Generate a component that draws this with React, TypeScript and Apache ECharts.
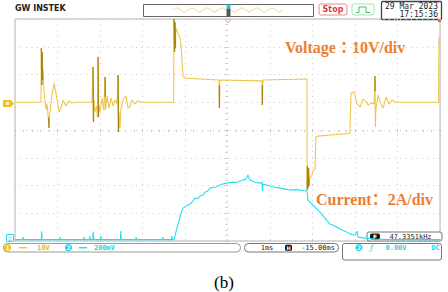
import React, { useEffect, useRef } from "react";
import * as echarts from "echarts";

// time in ms (1 ms/div), voltage in V (10 V/div), current in A (2 A/div)
const voltageTrace: [number, number][] = [
  [0, 0], [0.61, 0], [0.62, 19.5], [0.63, 6.2], [0.64, 18.1], [0.65, 8.0], [0.66, 11.6], [0.68, 4.4],
  [0.73, -2.8], [0.75, -0.6], [0.78, -4.6], [0.8, -9.3], [0.82, -3.5], [0.87, 2.6], [0.92, 6.9],
  [0.96, 3.7], [1.04, -3.5], [1.08, -2.1], [1.13, 0.8], [1.2, -1.4], [1.27, 0.5], [1.34, -0.3], [1.41, 0],
  [1.81, 0], [1.835, 12.7], [1.847, -7.1], [1.86, 0.8], [1.88, -3.5], [1.92, -1.4], [1.94, -5.7],
  [1.953, 16.3], [1.965, -5.3], [1.976, -1.0], [2.0, -3.5], [2.05, 1.5], [2.09, -2.8], [2.118, 9.1],
  [2.13, -2.8], [2.165, 2.3], [2.21, -2.1], [2.26, 1.5], [2.31, -1.4], [2.35, 0.8], [2.4, -0.6],
  [2.424, 9.8], [2.435, -10.7], [2.447, -3.5], [2.47, -9.3], [2.49, -2.8], [2.54, 0.8], [2.61, 2.3],
  [2.66, -2.1], [2.71, -1.4], [2.75, 0.8], [2.82, -0.6], [2.89, 0.5], [2.96, 0],
  [3.734, 0], [3.741, 30], [3.753, 18.1], [3.765, 28.9], [3.776, 19.5], [3.788, 26.8], [3.835, 25.0],
  [3.88, 23.5], [3.906, 20.6], [3.93, 14.5], [3.953, 9.4], [4.0, 8.7], [4.35, 8.4], [4.8, 8.0],
  [4.81, -2.1], [4.82, 8.0], [5.81, 7.7], [5.82, -1.0], [5.835, 8.0], [6.87, 8.4],
  [6.875, -31.6], [6.88, -23.0], [6.894, -30.9], [6.906, -23.7], [6.918, -30.2], [6.94, -27.3],
  [6.99, -26.2], [7.01, -24.8], [7.06, -24.1], [7.08, -12.5], [7.13, -12.2], [7.41, -11.8],
  [7.76, -11.4], [7.88, -11.1], [7.906, 3.3], [7.98, 3.7], [8.05, -0.6], [8.12, -1.7], [8.19, 1.2],
  [8.26, 0.1], [8.31, -1.0], [8.38, -0.3], [8.45, -0.6], [8.47, 9.5], [8.48, -8.9], [8.49, -2.8],
  [8.54, 2.6], [8.61, -0.6], [8.66, -2.1], [8.73, 1.9], [8.8, -0.6], [8.87, 0.8], [8.94, 0],
  [9.965, 0], [9.976, 23.5],
];

// darker (denser) parts of the voltage trace
const voltageSpikes: ([number, number] | [number, null])[] = [
  [0.62, 19.5], [0.63, 6.2], [0.64, 18.1], [0.65, 8.0], [0.655, null],
  [0.79, -5.5], [0.8, -9.3], [0.805, null],
  [1.835, 12.7], [1.847, -7.1], [1.85, null],
  [1.953, 16.3], [1.965, -5.3], [1.97, null],
  [2.118, 9.1], [2.125, 2.0], [2.13, null],
  [2.424, 9.8], [2.435, -10.7], [2.44, null],
  [3.741, 30], [3.753, 18.1], [3.765, 28.9], [3.776, 19.5], [3.78, null],
  [4.81, 6.0], [4.81, -2.1], [4.815, null],
  [5.82, 6.0], [5.82, -1.0], [5.825, null],
  [6.875, -31.6], [6.88, -23.0], [6.894, -30.9], [6.906, -23.7], [6.918, -30.2], [6.92, null],
  [8.47, 9.5], [8.472, 4.0], [8.475, null],
];

const currentTrace: [number, number][] = [
  [0, 0], [0.18, 0], [0.19, 0.18], [0.2, 0], [0.62, 0], [0.628, 0.61], [0.636, 0],
  [1.05, 0], [1.06, 0.18], [1.07, 0], [1.61, 0], [1.62, 0.18], [1.63, 0], [1.75, 0], [1.76, 0.25],
  [1.77, 0], [1.83, 0], [1.84, 0.58], [1.85, 0], [2.01, 0], [2.02, 0.25], [2.03, 0], [2.48, 0],
  [2.49, 0.61], [2.5, 0], [2.84, 0], [2.85, 0.18], [2.86, 0], [3.47, 0], [3.48, 0.18], [3.49, 0],
  [3.68, 0], [3.69, 0.25], [3.7, 0], [3.741, 0],
  [3.812, 0.83], [3.906, 1.91], [3.953, 2.27], [4.024, 2.41], [4.118, 2.56], [4.188, 2.77],
  [4.235, 2.99], [4.3, 2.95], [4.353, 3.14], [4.42, 3.2], [4.471, 3.42], [4.53, 3.5], [4.588, 3.71],
  [4.706, 3.78], [4.76, 3.85], [4.824, 3.93], [4.9, 4.02], [4.988, 4.07], [5.106, 4.14], [5.2, 4.12],
  [5.294, 4.22], [5.435, 4.36], [5.482, 4.65], [5.529, 4.29], [5.647, 4.14], [5.765, 4.07],
  [5.812, 4.14], [5.824, 3.5], [5.835, 4.0], [6.0, 3.86], [6.118, 3.78], [6.235, 3.71],
  [6.353, 3.64], [6.471, 3.57], [6.6, 3.6], [6.706, 3.57], [6.871, 3.5],
  [6.894, 2.85], [6.965, 2.63], [7.059, 2.34], [7.176, 1.98], [7.294, 1.55], [7.412, 1.12],
  [7.529, 0.97], [7.647, 0.76], [7.765, 0.61], [7.882, 0.4], [8.0, 0.32], [8.047, 0.61],
  [8.071, 0.18], [8.235, 0.11], [8.471, 0.04], [8.824, 0], [10, 0],
];

const voltageLabel = "Voltage：10V/div";
const currentLabel = "Current：2A/div";
const captionLabel = "(b)";
const brandLabel = "GW INSTEK";
const dateLabel = "29 Mar 2023";
const clockLabel = "17:15:36";
const ch1Scale = "10V";
const ch2Scale = "200mV";
const timebaseLabel = "1ms";
const delayLabel = "-15.00ms";
const freqLabel = "47.3351kHz";
const trigLevelLabel = "0.00V";
const couplingLabel = "DC";

const YEL = "#eec64f";
const YEL_DARK = "#a8840c";
const CYAN = "#1fe0ee";
const ORANGE = "#ed7d31";
const MONO = "'DejaVu Sans Mono', monospace";
const GRIDC = "#cccccc";

export default function App() {
  const ref = useRef<HTMLDivElement>(null);
  useEffect(() => {
    if (!ref.current) return;
    const chart = echarts.init(ref.current, undefined, { renderer: "svg" });
    const wave1 = [[173, 10], [177, 8], [181, 10], [184, 12], [188, 10], [192, 8], [196, 10], [199, 12], [203, 10], [207, 8], [211, 10], [214, 12], [218, 10], [222, 8], [226, 10]];
    const wave2 = [[231, 10], [234, 12], [238, 10], [242, 8], [246, 10], [249, 12], [253, 10], [257, 8], [261, 10], [264, 12], [268, 10], [272, 8], [276, 10], [279, 12], [283, 10]];
    const labelFont = "bold 16px 'Liberation Serif', 'Noto Sans CJK SC', serif";
    const graphic: any[] = [
      { type: "text", x: 15, y: 8, style: { text: brandLabel, fill: "#222", font: "bold 8px 'DejaVu Sans'", textVerticalAlign: "middle" } },
      { type: "rect", shape: { x: 143.5, y: 4.5, width: 170, height: 12 }, style: { fill: "#fff", stroke: "#666", lineWidth: 1 } },
      { type: "polyline", shape: { points: wave1, smooth: 0.5 }, style: { stroke: "#f2d683", fill: null, lineWidth: 1 } },
      { type: "polyline", shape: { points: wave2, smooth: 0.5 }, style: { stroke: "#f2d683", fill: null, lineWidth: 1 } },
      { type: "rect", shape: { x: 226.5, y: 4.5, width: 4, height: 4 }, style: { fill: "#1ad0e8" } },
      { type: "rect", shape: { x: 226.5, y: 8.5, width: 4, height: 7.5 }, style: { fill: "#555" } },
      { type: "rect", shape: { x: 319, y: 4, width: 28, height: 11, r: 2 }, style: { fill: "#fff", stroke: "#f08a8a", lineWidth: 1 } },
      { type: "text", x: 333, y: 9.8, style: { text: "Stop", fill: "#e23a3a", font: "bold 8px 'DejaVu Sans'", textAlign: "center", textVerticalAlign: "middle" } },
      { type: "rect", shape: { x: 352, y: 4, width: 22, height: 11, r: 2 }, style: { fill: "#fff", stroke: "#9fe6b4", lineWidth: 1 } },
      { type: "polyline", shape: { points: [[356, 12.5], [359, 12.5], [359, 7], [366, 7], [366, 12.5], [370, 12.5]] }, style: { stroke: "#3cc06c", fill: null, lineWidth: 1 } },
      { type: "rect", shape: { x: 381.5, y: 1.5, width: 60, height: 18, r: 1 }, style: { fill: "#fff", stroke: "#3a4450", lineWidth: 1.3 } },
      { type: "text", x: 438, y: 6.5, style: { text: dateLabel, fill: "#222", font: `8px ${MONO}`, textAlign: "right", textVerticalAlign: "middle" } },
      { type: "text", x: 438, y: 14.5, style: { text: clockLabel, fill: "#222", font: `8px ${MONO}`, textAlign: "right", textVerticalAlign: "middle" } },
      // trigger position and level markers
      { type: "polyline", shape: { points: [[225, 19.5], [228, 23], [231, 19.5]] }, style: { stroke: "#f2a08c", fill: null, lineWidth: 1 } },
      { type: "rect", shape: { x: 438, y: 19, width: 3, height: 3 }, style: { fill: "#f06030" } },
      // channel markers
      { type: "polygon", shape: { points: [[3, 100], [11, 100], [14, 103.5], [11, 107], [3, 107]] }, style: { fill: "#f2c21c" } },
      { type: "rect", shape: { x: 6, y: 102, width: 3, height: 3 }, style: { fill: "#fff3c0" } },
      { type: "rect", shape: { x: 6.5, y: 234.5, width: 7, height: 7 }, style: { fill: "#fff", stroke: CYAN, lineWidth: 1 } },
      { type: "text", x: 10, y: 238.5, style: { text: "2", fill: CYAN, font: "6px 'DejaVu Sans'", textAlign: "center", textVerticalAlign: "middle" } },
      // annotations
      { type: "text", x: 285, y: 47, style: { text: voltageLabel, fill: ORANGE, font: "bold 16px 'Liberation Serif', 'Noto Sans CJK TC', serif", textVerticalAlign: "middle" } },
      { type: "text", x: 316, y: 199, style: { text: currentLabel, fill: ORANGE, font: labelFont, textVerticalAlign: "middle" } },
      // frequency box
      { type: "rect", shape: { x: 367, y: 232, width: 75, height: 9, r: 2 }, style: { fill: "#fff", stroke: "#777", lineWidth: 1 } },
      { type: "rect", shape: { x: 370, y: 233.5, width: 10, height: 6, r: 2 }, style: { fill: "#111" } },
      { type: "text", x: 375, y: 236.7, style: { text: "F", fill: "#fff", font: "bold 6px 'DejaVu Sans'", textAlign: "center", textVerticalAlign: "middle" } },
      { type: "text", x: 410.5, y: 236.7, style: { text: freqLabel, fill: "#222", font: `7px ${MONO}`, textAlign: "center", textVerticalAlign: "middle" } },
      // bottom status bar
      { type: "rect", shape: { x: 3.5, y: 243.5, width: 237, height: 8.5, r: 4 }, style: { fill: "#fff", stroke: "#999", lineWidth: 1 } },
      { type: "circle", shape: { cx: 7.5, cy: 247.7, r: 3.6 }, style: { fill: "#f2c21c" } },
      { type: "text", x: 7.5, y: 247.9, style: { text: "1", fill: "#fff6cc", font: "bold 6px 'DejaVu Sans'", textAlign: "center", textVerticalAlign: "middle" } },
      { type: "line", shape: { x1: 19, y1: 247.7, x2: 27, y2: 247.7 }, style: { stroke: "#f0c63a", lineWidth: 1.5 } },
      { type: "text", x: 43.5, y: 247.8, style: { text: ch1Scale, fill: "#eab92a", font: `bold 7px ${MONO}`, textAlign: "center", textVerticalAlign: "middle" } },
      { type: "circle", shape: { cx: 68.5, cy: 247.7, r: 3.6 }, style: { fill: "#22d6ea" } },
      { type: "text", x: 68.5, y: 247.9, style: { text: "2", fill: "#e0fbff", font: "bold 6px 'DejaVu Sans'", textAlign: "center", textVerticalAlign: "middle" } },
      { type: "line", shape: { x1: 79, y1: 247.7, x2: 87, y2: 247.7 }, style: { stroke: CYAN, lineWidth: 1.5 } },
      { type: "text", x: 104.5, y: 247.8, style: { text: ch2Scale, fill: "#1ed4e8", font: `bold 7px ${MONO}`, textAlign: "center", textVerticalAlign: "middle" } },
      { type: "rect", shape: { x: 244.5, y: 243.5, width: 94, height: 8.5, r: 4 }, style: { fill: "#fff", stroke: "#777", lineWidth: 1 } },
      { type: "text", x: 267, y: 247.8, style: { text: timebaseLabel, fill: "#222", font: `7px ${MONO}`, textAlign: "center", textVerticalAlign: "middle" } },
      { type: "rect", shape: { x: 285, y: 244.8, width: 7, height: 6, r: 1.5 }, style: { fill: "#111" } },
      { type: "text", x: 288.5, y: 247.9, style: { text: "H", fill: "#fff", font: "bold 5px 'DejaVu Sans'", textAlign: "center", textVerticalAlign: "middle" } },
      { type: "text", x: 318, y: 247.8, style: { text: delayLabel, fill: "#222", font: `7px ${MONO}`, textAlign: "center", textVerticalAlign: "middle" } },
      { type: "rect", shape: { x: 342.5, y: 243.5, width: 99, height: 16.5, r: 2 }, style: { fill: "#fff", stroke: "#777", lineWidth: 1 } },
      { type: "circle", shape: { cx: 359, cy: 247.7, r: 3.6 }, style: { fill: "#22d6ea" } },
      { type: "text", x: 359, y: 247.9, style: { text: "2", fill: "#e0fbff", font: "bold 6px 'DejaVu Sans'", textAlign: "center", textVerticalAlign: "middle" } },
      { type: "text", x: 371.5, y: 247.8, style: { text: "ƒ", fill: "#1ed4e8", font: "italic 8px 'DejaVu Serif'", textAlign: "center", textVerticalAlign: "middle" } },
      { type: "text", x: 396, y: 247.8, style: { text: trigLevelLabel, fill: "#1ed4e8", font: `bold 7px ${MONO}`, textAlign: "center", textVerticalAlign: "middle" } },
      { type: "text", x: 435.5, y: 247.8, style: { text: couplingLabel, fill: "#1ed4e8", font: `bold 7px ${MONO}`, textAlign: "center", textVerticalAlign: "middle" } },
      // caption
      { type: "text", x: 224, y: 282, style: { text: captionLabel, fill: "#000", font: "17px 'Liberation Serif', serif", textAlign: "center", textVerticalAlign: "middle" } },
    ];

    chart.setOption({
      animation: false,
      backgroundColor: "#fff",
      grid: { left: 15, top: 19, width: 425, height: 222, show: true, borderColor: "#b4b4b4", borderWidth: 1, backgroundColor: "transparent" },
      xAxis: [
        {
          type: "value", min: 0, max: 10, interval: 1, position: "bottom",
          axisLine: { show: false }, axisTick: { show: false }, axisLabel: { show: false },
          splitLine: { show: true, lineStyle: { color: GRIDC, width: 1, type: [1, 4.5] } },
        },
        {
          type: "value", min: -5, max: 5, interval: 1,
          axisLine: { show: false, onZero: true, onZeroAxisIndex: 2 },
          axisTick: { show: true, inside: true, length: 2, lineStyle: { color: "#bdbdbd" } },
          minorTick: { show: true, splitNumber: 5, length: 2, lineStyle: { color: "#c4c4c4" } },
          axisLabel: { show: false }, splitLine: { show: false },
        },
        {
          type: "value", min: 0, max: 10, interval: 1, position: "top",
          axisLine: { show: false }, axisLabel: { show: false }, splitLine: { show: false },
          axisTick: { show: true, inside: true, length: 2, lineStyle: { color: "#c0c0c0" } },
          minorTick: { show: true, splitNumber: 5, length: 1.5, lineStyle: { color: "#cfcfcf" } },
        },
      ],
      yAxis: [
        {
          type: "value", min: -50, max: 30, interval: 10,
          axisLine: { show: false }, axisTick: { show: false }, axisLabel: { show: false },
          splitLine: { show: true, lineStyle: { color: GRIDC, width: 1, type: [1, 4.5] } },
        },
        { type: "value", min: -0.1, max: 15.9, show: false, splitLine: { show: false } },
        {
          type: "value", min: -4, max: 4, interval: 1,
          axisLine: { show: false, onZero: true, onZeroAxisIndex: 1 },
          axisTick: { show: true, inside: true, length: 2, lineStyle: { color: "#bdbdbd" } },
          minorTick: { show: true, splitNumber: 5, length: 2, lineStyle: { color: "#c4c4c4" } },
          axisLabel: { show: false }, splitLine: { show: false },
        },
      ],
      series: [
        {
          type: "line", xAxisIndex: 0, yAxisIndex: 0, data: voltageTrace, showSymbol: false, symbol: "none",
          lineStyle: { color: YEL, width: 1.1 }, z: 3, silent: true,
        },
        {
          type: "line", xAxisIndex: 0, yAxisIndex: 0, data: voltageSpikes, showSymbol: false, symbol: "none",
          connectNulls: false, lineStyle: { color: YEL_DARK, width: 1.3 }, z: 4, silent: true,
        },
        {
          type: "line", xAxisIndex: 0, yAxisIndex: 1, data: currentTrace, showSymbol: false, symbol: "none",
          lineStyle: { color: CYAN, width: 1.1 }, z: 2, silent: true,
        },
      ],
      graphic,
    });
    return () => chart.dispose();
  }, []);
  return <div ref={ref} style={{ position: "fixed", left: 0, top: 0, width: 448, height: 292 }} />;
}
